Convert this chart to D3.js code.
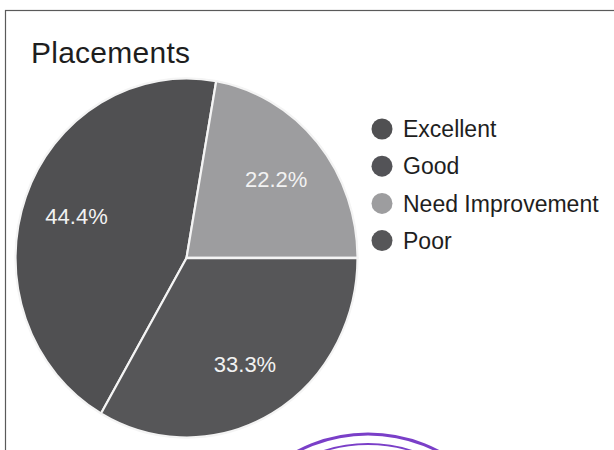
<!DOCTYPE html>
<html>
<head>
<meta charset="utf-8">
<script src="https://cdn.jsdelivr.net/npm/d3@7"></script>
<style>
  html, body { margin: 0; padding: 0; background: #ffffff; }
  svg { display: block; }
  text { font-family: "Liberation Sans", Arial, sans-serif; }
</style>
</head>
<body>
<svg id="chart" width="614" height="450"></svg>
<script>
// ---- data ----
const title = "Placements";
const categories = ["Excellent", "Good", "Need Improvement", "Poor"];
const values = [4, 0, 2, 3];
const sliceColors = ["#505052", "#535357", "#9d9d9f", "#565658"];

// ---- layout ----
const W = 614, H = 450;
const cx = 186.5, cy = 258, r = 171, yStretch = 1.05;
const labelR = 117;
const svg = d3.select("#chart");

// frame
svg.append("rect")
  .attr("x", 5.5).attr("y", 10.5)
  .attr("width", 640).attr("height", 480)
  .attr("fill", "#ffffff")
  .attr("stroke", "#5a5a5a").attr("stroke-width", 1.2);

// title
svg.append("text")
  .attr("x", 31).attr("y", 63)
  .attr("font-size", 30)
  .attr("fill", "#1e1e1e")
  .attr("textLength", 159)
  .text(title);

const data = categories.map((c, i) => ({ cat: c, value: values[i], color: sliceColors[i] }));
const total = d3.sum(values);

const start = 210 * Math.PI / 180;
const pie = d3.pie().sort(null).value(d => d.value)
  .startAngle(start).endAngle(start + 2 * Math.PI);
const arcs = pie(data).filter(a => a.data.value > 0);

const arc = d3.arc().innerRadius(0).outerRadius(r);
const labelArc = d3.arc().innerRadius(labelR).outerRadius(labelR);

const g = svg.append("g")
  .attr("transform", `translate(${cx},${cy}) scale(1,${yStretch})`);

g.selectAll("path.slice")
  .data(arcs)
  .join("path")
  .attr("class", "slice")
  .attr("d", arc)
  .attr("fill", d => d.data.color)
  .attr("stroke", "#f4f4f4")
  .attr("stroke-width", 2.2)
  .attr("stroke-linejoin", "round");

// labels (not stretched)
const fmt = v => (Math.round(v / total * 1000) / 10).toFixed(1) + "%";
svg.selectAll("text.lbl")
  .data(arcs)
  .join("text")
  .attr("class", "lbl")
  .attr("x", d => cx + labelArc.centroid(d)[0])
  .attr("y", d => cy + labelArc.centroid(d)[1] * yStretch)
  .attr("dy", "0.36em")
  .attr("text-anchor", "middle")
  .attr("font-size", 22)
  .attr("fill", "#f2f2f2")
  .text(d => fmt(d.data.value));

// legend
const lx = 382, ly0 = 129, lstep = 37.2;
const leg = svg.selectAll("g.leg")
  .data(data)
  .join("g")
  .attr("class", "leg")
  .attr("transform", (d, i) => `translate(${lx},${ly0 + i * lstep})`);
leg.append("circle")
  .attr("r", 10.5)
  .attr("fill", d => d.color);
leg.append("text")
  .attr("x", 21).attr("dy", "0.36em")
  .attr("font-size", 23)
  .attr("fill", "#1e1e1e")
  .text(d => d.cat);

// purple stamp fragment at the bottom
svg.append("circle")
  .attr("cx", 368).attr("cy", 586).attr("r", 152)
  .attr("fill", "none").attr("stroke", "#7a3fc8").attr("stroke-width", 3);
svg.append("circle")
  .attr("cx", 368).attr("cy", 588).attr("r", 144)
  .attr("fill", "none").attr("stroke", "#7a3fc8").attr("stroke-width", 1.8);
</script>
</body>
</html>
